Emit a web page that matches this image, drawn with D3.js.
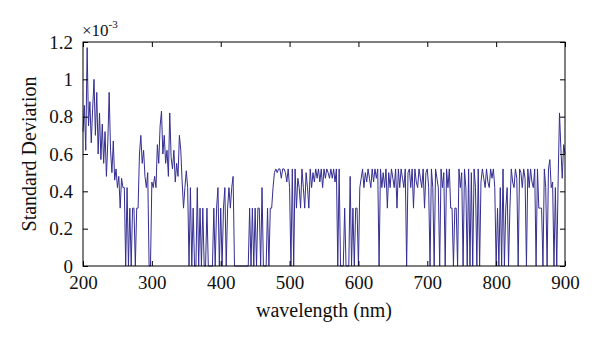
<!DOCTYPE html>
<html>
<head>
<meta charset="utf-8">
<script src="https://cdn.jsdelivr.net/npm/d3@7"></script>
<style>
  html, body { margin: 0; padding: 0; background: #fff; }
  svg { display: block; }
  svg text { font-family: "Liberation Serif", "DejaVu Serif", serif !important; fill: #111; }
</style>
</head>
<body>
<svg id="chart" width="600" height="344"></svg>
<script>
// x sampling grid (nm): first, last, step
const wlStart = 200, wlEnd = 900, wlStep = 2;

// standard deviation values (×10^-3), one per 2 nm from 200 to 900
const stdValues = [
  0.72, 0.86, 0.62, 1.17, 0.75, 0.88, 0.66, 0.84, 1.0, 0.7,
  0.93, 0.6, 0.82, 0.57, 0.76, 0.55, 0.72, 0.48, 0.66, 0.93,
  0.62, 0.5, 0.67, 0.46, 0.52, 0.42, 0.48, 0.31, 0.47, 0.42,
  0.42, 0, 0.42, 0, 0.31, 0, 0.31, 0.31, 0, 0.31,
  0.31, 0.6, 0.7, 0.55, 0.62, 0.48, 0.42, 0.5, 0, 0,
  0.45, 0.42, 0.48, 0.42, 0.65, 0.55, 0.75, 0.83, 0.6, 0.7,
  0.55, 0.62, 0.48, 0.82, 0.58, 0.52, 0.62, 0.45, 0.55, 0.48,
  0.7, 0.62, 0.45, 0.31, 0.42, 0.51, 0.42, 0, 0.42, 0,
  0.31, 0, 0, 0.42, 0, 0.31, 0, 0.31, 0, 0,
  0.31, 0, 0, 0, 0, 0.31, 0, 0.31, 0.42, 0,
  0.31, 0, 0.31, 0.42, 0, 0.31, 0.42, 0.31, 0.42, 0.48,
  0, 0, 0, 0, 0, 0, 0, 0, 0, 0,
  0, 0.31, 0, 0.31, 0, 0.31, 0, 0.31, 0.31, 0,
  0.42, 0, 0, 0, 0.31, 0, 0.31, 0.31, 0.42, 0.5,
  0.52, 0.5, 0.52, 0.52, 0.47, 0.52, 0.52, 0.5, 0.45, 0.52,
  0.42, 0, 0.52, 0, 0.52, 0.31, 0.47, 0.42, 0.31, 0.52,
  0.42, 0.31, 0.5, 0.42, 0.31, 0.52, 0.42, 0.5, 0.45, 0.52,
  0.47, 0.52, 0.45, 0.52, 0.42, 0.52, 0.47, 0.52, 0.5, 0.47,
  0.52, 0.47, 0.52, 0.45, 0.52, 0, 0.52, 0, 0, 0,
  0.31, 0, 0, 0, 0.48, 0, 0.31, 0, 0.31, 0.31,
  0, 0.42, 0.47, 0.52, 0.42, 0.5, 0.45, 0.52, 0.47, 0.42,
  0.52, 0.45, 0.52, 0.47, 0.52, 0, 0.52, 0.42, 0.5, 0.42,
  0.52, 0.31, 0.5, 0.42, 0.52, 0.47, 0.42, 0.52, 0.31, 0.52,
  0.42, 0.52, 0.47, 0.42, 0.52, 0, 0.5, 0.52, 0.42, 0.52,
  0.31, 0.52, 0.45, 0.42, 0.52, 0.47, 0.42, 0.52, 0.31, 0.5,
  0.52, 0.42, 0, 0.52, 0.42, 0, 0.52, 0.47, 0.42, 0,
  0.52, 0.42, 0.5, 0, 0.52, 0.42, 0.52, 0.31, 0.31, 0,
  0.31, 0.31, 0, 0.52, 0.42, 0.5, 0, 0.52, 0.42, 0,
  0.52, 0, 0.5, 0, 0.52, 0.42, 0, 0.52, 0, 0.45,
  0.52, 0.47, 0.42, 0.52, 0.45, 0.42, 0.52, 0.47, 0.52, 0.42,
  0, 0.31, 0, 0.42, 0, 0.52, 0, 0.31, 0.42, 0,
  0.31, 0.52, 0.45, 0.42, 0.52, 0.47, 0, 0.52, 0.5, 0.42,
  0.52, 0.47, 0, 0.52, 0.42, 0.52, 0.45, 0.42, 0.52, 0,
  0.52, 0.31, 0.31, 0.31, 0, 0.52, 0.42, 0, 0.52, 0.57,
  0.42, 0.45, 0, 0.42, 0, 0.45, 0.82, 0.63, 0.47, 0.65,
  0.6
];

const xTicks = [200, 300, 400, 500, 600, 700, 800, 900];
const yTicks = [0, 0.2, 0.4, 0.6, 0.8, 1.0, 1.2];
const yTickLabels = ["0", "0.2", "0.4", "0.6", "0.8", "1", "1.2"];

const xLabel = "wavelength (nm)";
const yLabel = "Standard Deviation";

const wavelengths = d3.range(wlStart, wlEnd + wlStep / 2, wlStep);
const data = wavelengths.map((w, i) => ({ x: w, y: stdValues[i] }));

const margin = { left: 83, right: 35, top: 42, bottom: 78 };
const W = 600, H = 344;
const svg = d3.select("#chart");
const serif = "'Liberation Serif', 'DejaVu Serif', serif";

const x = d3.scaleLinear().domain([200, 900]).range([margin.left, W - margin.right]);
const y = d3.scaleLinear().domain([0, 1.2]).range([H - margin.bottom, margin.top]);

// line
const line = d3.line().x(d => x(d.x)).y(d => y(d.y));
svg.append("path")
  .datum(data)
  .attr("fill", "none")
  .attr("stroke", "#342e91")
  .attr("stroke-width", 1)
  .attr("d", line);

// frame
svg.append("rect")
  .attr("x", x(200)).attr("y", y(1.2))
  .attr("width", x(900) - x(200)).attr("height", y(0) - y(1.2))
  .attr("fill", "none").attr("stroke", "#000").attr("stroke-width", 1);

// axes (ticks inward)
const tl = 5;
const gx = svg.append("g").attr("transform", `translate(0,${y(0)})`)
  .call(d3.axisBottom(x).tickValues(xTicks).tickSizeInner(-tl).tickSizeOuter(0).tickFormat(d3.format("d")));
const gxTop = svg.append("g").attr("transform", `translate(0,${y(1.2)})`)
  .call(d3.axisTop(x).tickValues(xTicks).tickSizeInner(-tl).tickSizeOuter(0).tickFormat(""));
const gy = svg.append("g").attr("transform", `translate(${x(200)},0)`)
  .call(d3.axisLeft(y).tickValues(yTicks).tickSizeInner(-tl).tickSizeOuter(0).tickPadding(10)
    .tickFormat((d, i) => yTickLabels[i]));
const gyR = svg.append("g").attr("transform", `translate(${x(900)},0)`)
  .call(d3.axisRight(y).tickValues(yTicks).tickSizeInner(-tl).tickSizeOuter(0).tickFormat(""));

[gx, gxTop, gy, gyR].forEach(g => {
  g.attr("font-family", null).attr("font-size", null);
  g.select(".domain").remove();
  g.selectAll(".tick line").attr("stroke", "#000");
  g.selectAll("text").style("font-family", serif).style("font-size", "19px").attr("fill", "#111");
});
gx.selectAll(".tick text").attr("y", 10).attr("dy", "0.71em");

// axis labels
svg.append("text")
  .attr("x", (x(200) + x(900)) / 2).attr("y", 317)
  .attr("text-anchor", "middle")
  .style("font-family", serif).style("font-size", "20px")
  .text(xLabel);

svg.append("text")
  .attr("transform", `translate(36,${(y(0) + y(1.2)) / 2}) rotate(-90)`)
  .attr("text-anchor", "middle")
  .style("font-family", serif).style("font-size", "20px")
  .text(yLabel);

// exponent
const ex = svg.append("text").attr("x", 82).attr("y", 36)
  .style("font-family", serif).style("font-size", "17px");
ex.append("tspan").text("×10");
ex.append("tspan").attr("dy", -8).style("font-size", "11px").text("-3");
</script>
</body>
</html>
